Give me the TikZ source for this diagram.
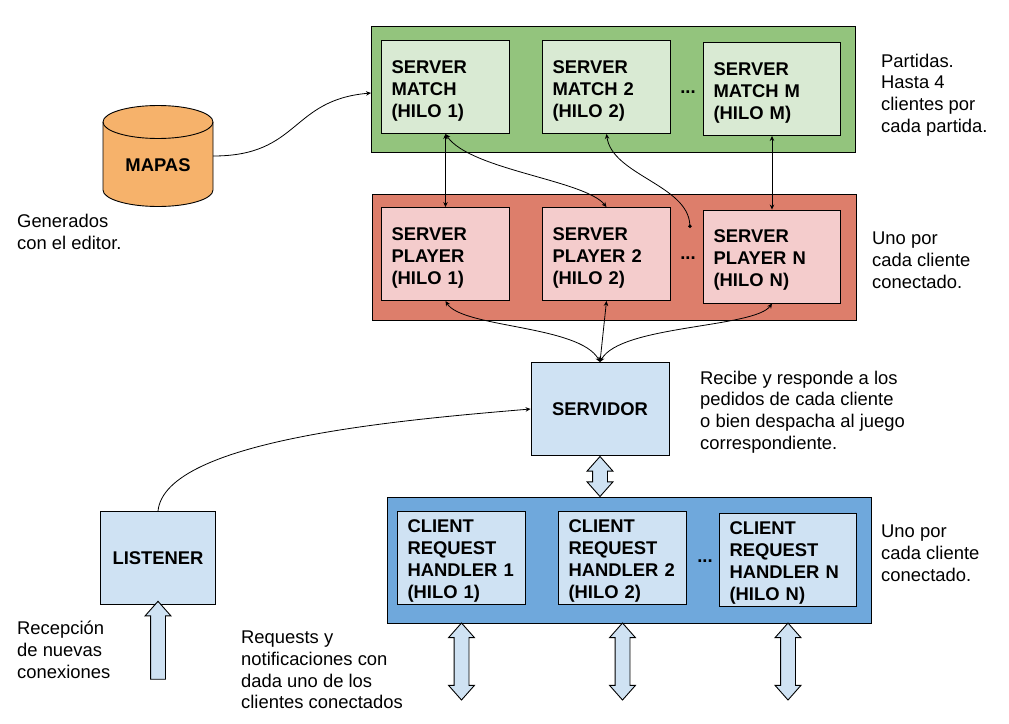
\documentclass[tikz,border=0pt]{standalone}
\usepackage{fontspec}
\setmainfont{Liberation Sans}
\usepackage{tikz}
\usetikzlibrary{shapes.arrows,arrows.meta}
\definecolor{greenbg}{HTML}{93C47D}
\definecolor{greenlt}{HTML}{D9EAD3}
\definecolor{redbg}{HTML}{DD7E6B}
\definecolor{redlt}{HTML}{F4CCCC}
\definecolor{bluebg}{HTML}{6FA8DC}
\definecolor{bluelt}{HTML}{CFE2F3}
\definecolor{orangebg}{HTML}{F6B26B}

\begin{document}
\begin{tikzpicture}[x=1pt, y=-1pt,
  band/.style={draw=black, line width=0.9pt, minimum width=484pt, minimum height=126pt, inner sep=0pt},
  hilo/.style={draw=black, line width=0.9pt, inner xsep=10pt, inner ysep=0pt, align=left, text width=#1,
    minimum height=93pt, font=\fontsize{18.4}{22}\selectfont\bfseries,
    execute at begin node={\rule{0pt}{20.5pt}}},
  hilo/.default=108pt,
  solo/.style={draw=black, line width=0.9pt, fill=bluelt, inner sep=0pt, align=center,
    minimum width=#1, minimum height=93pt, font=\fontsize{18.4}{22}\selectfont\bfseries},
  note/.style={anchor=west, inner sep=0pt, align=left, font=\fontsize{18.4}{21.8}\selectfont},
  dots/.style={inner sep=0pt, font=\fontsize{18.4}{22}\selectfont\bfseries},
  link/.style={line width=0.8pt, {Stealth[length=5pt,width=4.5pt]}-{Stealth[length=5pt,width=4.5pt]}},
  feed/.style={line width=0.8pt, -{Stealth[length=5pt,width=4.5pt]}},
  biarrow/.style={double arrow, draw=black, line width=0.9pt, fill=bluelt, rotate=90,
    inner xsep=0pt, inner ysep=7pt, minimum width=25pt, minimum height=#1,
    double arrow head extend=5.5pt, double arrow tip angle=83},
  uparrow/.style={single arrow, draw=black, line width=0.9pt, fill=bluelt, rotate=90,
    inner xsep=0pt, inner ysep=7pt, minimum width=25pt, minimum height=#1,
    single arrow head extend=5.5pt, single arrow tip angle=83}
]
  \useasboundingbox (0,0) rectangle (1009,723);

  % Bands
  \node[band, fill=greenbg] (matches) at (613.5,89.5) {};
  \node[band, fill=redbg] (players) at (614,257) {};
  \node[band, fill=bluebg] (clients) at (629.5,560) {};

  % Server matches
  \node[hilo, fill=greenlt] (matcha) at (445.5,87) {SERVER\\MATCH\\(HILO 1)};
  \node[hilo, fill=greenlt] (matchb) at (606.5,87) {SERVER\\MATCH 2\\(HILO 2)};
  \node[hilo=117pt, fill=greenlt] (matchm) at (772,89) {SERVER\\MATCH M\\(HILO M)};
  \node[dots] (matchdots) at (688,92) {...};

  % Server players
  \node[hilo, fill=redlt] (playera) at (445.5,254) {SERVER\\PLAYER\\(HILO 1)};
  \node[hilo, fill=redlt] (playerb) at (606.5,254) {SERVER\\PLAYER 2\\(HILO 2)};
  \node[hilo=117pt, fill=redlt] (playern) at (772,256.5) {SERVER\\PLAYER N\\(HILO N)};
  \node[dots] (playerdots) at (688,258) {...};
  \coordinate (playergap) at (690,228);

  % Client handlers
  \node[hilo, fill=bluelt] (handlera) at (461.5,557.5) {CLIENT\\REQUEST\\HANDLER 1\\(HILO 1)};
  \node[hilo, fill=bluelt] (handlerb) at (622.5,557.5) {CLIENT\\REQUEST\\HANDLER 2\\(HILO 2)};
  \node[hilo=117pt, fill=bluelt] (handlern) at (788,559.5) {CLIENT\\REQUEST\\HANDLER N\\(HILO N)};
  \node[dots] (handlerdots) at (705,561) {...};

  % Single boxes
  \node[solo=138pt] (servidor) at (600,409) {SERVIDOR};
  \node[solo=115pt] (listener) at (158,558) {LISTENER};

  % Cylinder
  \draw[line width=0.9pt, fill=orangebg] (103,122) arc[start angle=180, end angle=0, x radius=55pt, y radius=16.5pt]
    -- (213,190) arc[start angle=0, end angle=-180, x radius=55pt, y radius=16.5pt] -- cycle;
  \draw[line width=0.9pt] (103,122) arc[start angle=180, end angle=360, x radius=55pt, y radius=16.5pt];
  \node[inner sep=0pt, minimum width=110pt, font=\fontsize{18.4}{22}\selectfont\bfseries] (mapas) at (158,165) {MAPAS};
  \coordinate (matchesin) at (371,93);

  % Connectors
  \draw[feed] ([yshift=9pt]mapas.east) .. controls (300,156) and (290,100) .. (matchesin);
  \draw[link] (matcha.south) -- (playera.north);
  \draw[link] (matcha.south) .. controls (470,170) and (585,180) .. (playerb.north);
  \draw[line width=0.8pt, {Stealth[length=5pt,width=4.5pt]}-{Circle[length=3.5pt]}] (matchb.south) .. controls (612,175) and (688,185) .. (playergap);
  \draw[link] (matchm.south) -- (playern.north);
  \draw[link] (playera.south) .. controls (462,328) and (580,325) .. (servidor.north);
  \draw[link] (playerb.south) -- (servidor.north);
  \draw[link] (playern.south) .. controls (755,328) and (620,325) .. (servidor.north);
  \draw[feed] (listener.north) .. controls (165,440) and (400,420) .. (servidor.west);

  % Block arrows
  \node[biarrow=40pt] (servidorarrow) at (600,476.5) {};
  \node[biarrow=77pt] (arrowa) at (461.5,661.5) {};
  \node[biarrow=77pt] (arrowb) at (622.5,661.5) {};
  \node[biarrow=77pt] (arrown) at (788,661.5) {};
  \node[uparrow=78pt] (listenerarrow) at (158,644.5) {};

  % Notes
  \node[note] (notematches) at (881,95) {Partidas.\\Hasta 4\\clientes por\\cada partida.};
  \node[note] (notemapas) at (17,232) {Generados\\con el editor.};
  \node[note] (noteplayers) at (872,260) {Uno por\\cada cliente\\conectado.};
  \node[note] (noteservidor) at (700,412) {Recibe y responde a los\\pedidos de cada cliente\\o bien despacha al juego\\correspondiente.};
  \node[note] (noteclients) at (881,553) {Uno por\\cada cliente\\conectado.};
  \node[note] (notelistener) at (17,650) {Recepción\\de nuevas\\conexiones};
  \node[note] (noterequests) at (241,670) {Requests y\\notificaciones con\\dada uno de los\\clientes conectados};
\end{tikzpicture}
\end{document}
